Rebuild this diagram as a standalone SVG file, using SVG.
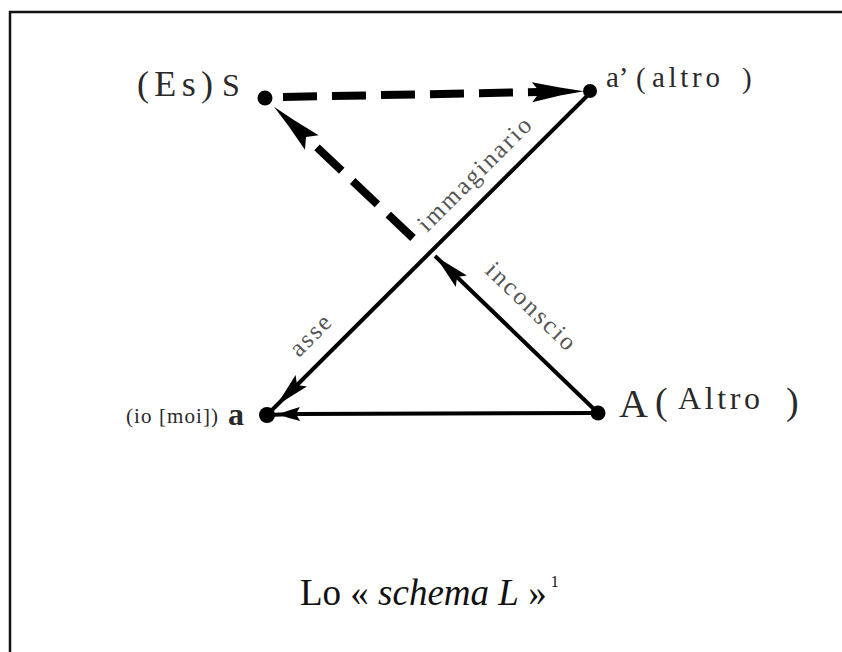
<svg xmlns="http://www.w3.org/2000/svg" width="842" height="652" viewBox="0 0 842 652">
<style>
.lbl{font-family:"Liberation Serif","Times New Roman",serif;fill:#555;font-size:25px}
.nd{font-family:"Liberation Serif","Times New Roman",serif;fill:#2a2a2a}
.solid{fill:none;stroke:#000;stroke-width:4}
.dash{fill:none;stroke:#000;stroke-width:8;stroke-dasharray:34 15}
.dot{fill:#000}
</style>
<defs>
<marker id="ahBig" markerUnits="userSpaceOnUse" viewBox="-10 -12 58 24" refX="0" refY="0" markerWidth="58" markerHeight="24" orient="auto" overflow="visible">
<path d="M44,0 L20,-4 L-8,-10 L0,0 L-8,10 L20,4 Z" fill="#000"/>
</marker>
<marker id="ahMid" markerUnits="userSpaceOnUse" viewBox="-8 -10 42 20" refX="0" refY="0" markerWidth="42" markerHeight="20" orient="auto" overflow="visible">
<path d="M30,0 L14,-3.5 L-6,-8 L0,0 L-6,8 L14,3.5 Z" fill="#000"/>
</marker>
<marker id="ahSmall" markerUnits="userSpaceOnUse" viewBox="-6 -8 26 16" refX="0" refY="0" markerWidth="26" markerHeight="16" orient="auto" overflow="visible">
<path d="M18,0 L8,-3.5 L-4,-7 L0,0 L-4,7 L8,3.5 Z" fill="#000"/>
</marker>
</defs>
<rect x="0" y="0" width="842" height="652" fill="#fff"/>
<rect x="10" y="12" width="850" height="660" fill="none" stroke="#111" stroke-width="2.5"/>

<g id="connectors">
<path class="dash" d="M283,97 L540,92" marker-end="url(#ahBig)"/>
<path class="dash" d="M413,238 L306,137" marker-end="url(#ahBig)"/>
<path class="solid" d="M591,92 L297,385 L267,415" marker-mid="url(#ahMid)"/>
<path class="solid" d="M598,413 L296,414 L267,415" marker-mid="url(#ahSmall)"/>
<path class="solid" d="M598,413 L457,277 L435,256" marker-mid="url(#ahMid)"/>
<text class="lbl" transform="translate(427,233) rotate(-45)" textLength="150" lengthAdjust="spacing">immaginario</text>
<text class="lbl" transform="translate(484,272) rotate(44)" textLength="115" lengthAdjust="spacing">inconscio</text>
<text class="lbl" transform="translate(299,358) rotate(-45)" textLength="48" lengthAdjust="spacing">asse</text>
</g>

<g id="node-S">
<circle class="dot" cx="265" cy="98" r="7.5"/>
<text class="nd" x="137" y="96" font-size="36" textLength="76" lengthAdjust="spacing">(Es)</text>
<text class="nd" x="222" y="96" font-size="32">S</text>
</g>
<g id="node-a-prime">
<circle class="dot" cx="590" cy="91" r="7"/>
<text class="nd" x="606" y="87" font-size="29">a’</text>
<text class="nd" x="636" y="88" font-size="29" fill="#888">(</text>
<text class="nd" x="652" y="87" font-size="29" textLength="68" lengthAdjust="spacing">altro</text>
<text class="nd" x="742" y="88" font-size="29" fill="#888">)</text>
</g>
<g id="node-a">
<circle class="dot" cx="267" cy="415" r="8"/>
<text class="nd" x="126" y="423" font-size="21" textLength="92" lengthAdjust="spacing">(io [moi])</text>
<text class="nd" x="228" y="425" font-size="32" font-weight="bold">a</text>
</g>
<g id="node-A">
<circle class="dot" cx="598" cy="413" r="7.5"/>
<text class="nd" x="619" y="417" font-size="40">A</text>
<text class="nd" x="655" y="414" font-size="38" fill="#777">(</text>
<text class="nd" x="678" y="409" font-size="32" textLength="82" lengthAdjust="spacing">Altro</text>
<text class="nd" x="786" y="414" font-size="38" fill="#777">)</text>
</g>

<text x="300" y="605" font-family="'Liberation Serif','Times New Roman',serif" font-size="37" fill="#111">Lo « <tspan font-style="italic">schema L</tspan> »<tspan font-size="16" dy="-18"> 1</tspan></text>
</svg>
